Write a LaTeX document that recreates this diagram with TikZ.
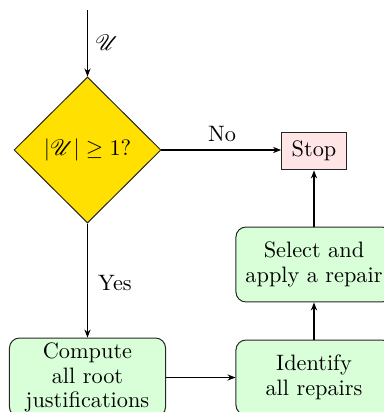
\documentclass[tikz,border=0pt]{standalone}
\usepackage{amsmath,amssymb}
\usepackage{mathrsfs}
\usetikzlibrary{shapes.geometric,arrows.meta}
\definecolor{decfill}{RGB}{255,224,0}
\definecolor{boxfill}{RGB}{217,255,217}
\definecolor{stopfill}{RGB}{255,229,229}
\begin{document}
\begin{tikzpicture}[x=0.4484pt,y=-0.4484pt,
  every node/.style={font=\fontsize{10}{11}\selectfont},
  decision/.style={diamond, draw=black!85, fill=decfill, line width=0.45pt,
    minimum width=65.9pt, minimum height=65.5pt, inner sep=1pt},
  stopbox/.style={rectangle, draw=black!85, fill=stopfill, line width=0.45pt,
    minimum width=29.1pt, minimum height=17pt, inner sep=1pt},
  procbox/.style={rectangle, rounded corners=4.5pt, draw=black!85, fill=boxfill,
    line width=0.45pt, align=center, minimum width=70pt, inner sep=1pt},
  flow/.style={draw=black, line width=0.5pt, -{Stealth[length=3.6pt,width=2.8pt,inset=1.2pt]}},
  lbl/.style={inner sep=0pt}
]
\useasboundingbox (0,0) rectangle (384,412);
\clip (0,0) rectangle (384,412);
\coordinate (in) at (87.5,10);
\node[decision] (dec) at (87.5,150) {$|\mathscr{U}| \geq 1?$};
\node[stopbox] (stop) at (314,151) {Stop};
\node[procbox, minimum height=33.6pt] (select) at (314,264.5) {Select and\\apply a repair};
\node[procbox, minimum height=33.6pt] (ident) at (314,377.5) {Identify\\all repairs};
\node[procbox, minimum height=35.4pt] (comp) at (87.5,377.5) {Compute\\all root\\justifications};
\node[lbl] (lu) at (107,43) {$\mathscr{U}$};
\node[lbl] (lno) at (222,134) {No};
\node[lbl] (lyes) at (115,283) {Yes};
\draw[flow] (in) -- (dec.north);
\draw[flow] (dec.east) -- (stop.west |- dec.east);
\draw[flow] (dec.south) -- (comp.north);
\draw[flow] (comp.east) -- (ident.west);
\draw[flow] (ident.north) -- (select.south);
\draw[flow] (select.north) -- (stop.south);
\end{tikzpicture}
\end{document}
